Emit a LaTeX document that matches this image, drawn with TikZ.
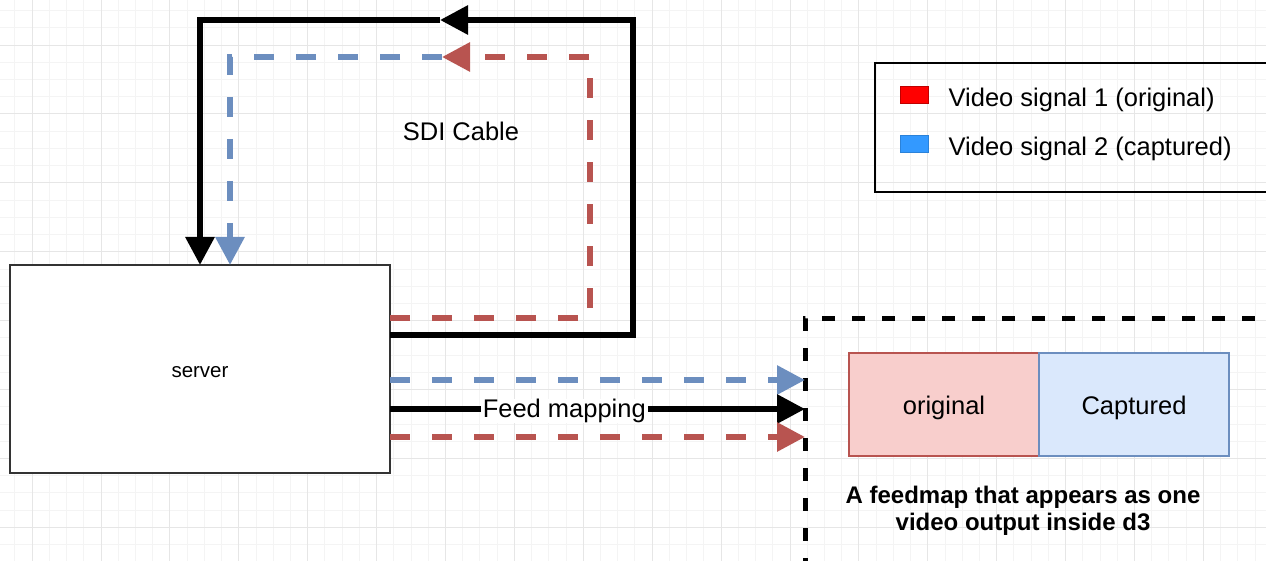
\documentclass[tikz,border=0pt]{standalone}
\usepackage{fontspec}
\setmainfont{Liberation Sans}
\usepackage{xcolor}
\usetikzlibrary{positioning,arrows.meta}
\definecolor{redsig}{HTML}{B85450}
\definecolor{bluesig}{HTML}{6C8EBF}
\definecolor{redfill}{HTML}{F8CECC}
\definecolor{bluefill}{HTML}{DAE8FC}
\definecolor{legblue}{HTML}{3399FF}
\definecolor{gridmaj}{HTML}{E6E6E6}
\definecolor{gridmin}{HTML}{F4F4F4}
\tikzset{
  wire/.style={line width=6pt,-{Triangle[length=28pt,width=28pt]}},
  dwire/.style={wire,dash pattern=on 20pt off 22pt},
  swatch/.style={minimum width=28pt,minimum height=17pt,inner sep=0pt,line width=0.8pt},
  box/.style={draw,outer sep=0pt,inner sep=0pt},
  lbl/.style={inner sep=0pt,yshift=-3pt}
}

\begin{document}
\begin{tikzpicture}[x=1pt,y=-1pt,node distance=20pt,font=\fontsize{25.5}{30}\selectfont]
    \useasboundingbox (0,0) rectangle (1266,561);
    \clip (0,0) rectangle (1266,561);
    % grid
    \foreach \k in {-1,...,72} \draw[gridmin,line width=0.8pt] (32+17.225*\k,0) -- (32+17.225*\k,561);
    \foreach \k in {-2,...,30} \draw[gridmin,line width=0.8pt] (0,45+17.225*\k) -- (1266,45+17.225*\k);
    \foreach \k in {0,...,18} \draw[gridmaj,line width=0.8pt] (32+68.9*\k,0) -- (32+68.9*\k,561);
    \foreach \k in {-1,...,7} \draw[gridmaj,line width=0.8pt] (0,45+68.9*\k) -- (1266,45+68.9*\k);

    \node[box,draw=black!80,fill=white,line width=1.5pt,minimum width=380pt,minimum height=208pt] (srv) at (200,369) {};
    \node[lbl,font=\fontsize{20.5}{24}\selectfont] (srvtext) at (srv) {server};
    \node (sdi) at (461,131) {SDI Cable};

    \node[box,line width=5pt,dash pattern=on 13pt off 17pt,minimum width=490pt,minimum height=280pt,
          anchor=north west] (fm) at (805,318) {};
    \node[box,draw=redsig,fill=redfill,line width=1.5pt,minimum width=190pt,minimum height=103pt] (orig) at (944,404.5) {};
    \node[box,draw=bluesig,fill=bluefill,line width=1.5pt,minimum width=190pt,minimum height=103pt,right=0pt of orig] (capt) {};
    \node[lbl] (origtext) at (orig) {original};
    \node[lbl] (capttext) at (capt) {Captured};
    \node[font=\bfseries\fontsize{24}{27}\selectfont,align=center] (fmtext) at (1023,511)
          {A feedmap that appears as one\\video output inside d3};

    \node[box,line width=2pt,minimum width=400pt,minimum height=129pt,anchor=north west] (leg) at (875,63) {};
    \node[swatch,fill=red,draw=red!75!black] (sw1) at (914,95) {};
    \node[swatch,fill=legblue,draw=legblue!85!black] (sw2) at (914,143.5) {};
    \node[inner sep=0pt,right=20pt of sw1,yshift=-5pt] (leg1) {Video signal 1 (original)};
    \node[inner sep=0pt,right=20pt of sw2,yshift=-5pt] (leg2) {Video signal 2 (captured)};

    \coordinate (kOut) at ([yshift=34pt]srv.east);
    \coordinate (rOut) at ([yshift=51pt]srv.east);
    \coordinate (bOut) at ([yshift=-11pt]srv.east);
    \coordinate (mOut) at ([yshift=-40pt]srv.east);
    \coordinate (nOut) at ([yshift=-68pt]srv.east);
    \coordinate (ktop) at (440,20);
    \coordinate (rtop) at (442,57);

    % SDI loop
    \draw[wire] (kOut) -| (633,20) -- (ktop);
    \draw[wire] (ktop) -| (srv.north);
    \draw[dwire,redsig] (rOut) -| (590,57) -- (rtop);
    \draw[dwire,bluesig] (rtop) -| ([xshift=30pt]srv.north);

    % feed mapping
    \draw[dwire,bluesig] (bOut) -- (bOut -| fm.west);
    \draw[wire] (mOut) -- node[pos=0.42,fill=white,inner xsep=2pt,inner ysep=0pt,yshift=-2pt] {Feed mapping} (mOut -| fm.west);
    \draw[dwire,redsig] (nOut) -- (nOut -| fm.west);
\end{tikzpicture}
\end{document}
